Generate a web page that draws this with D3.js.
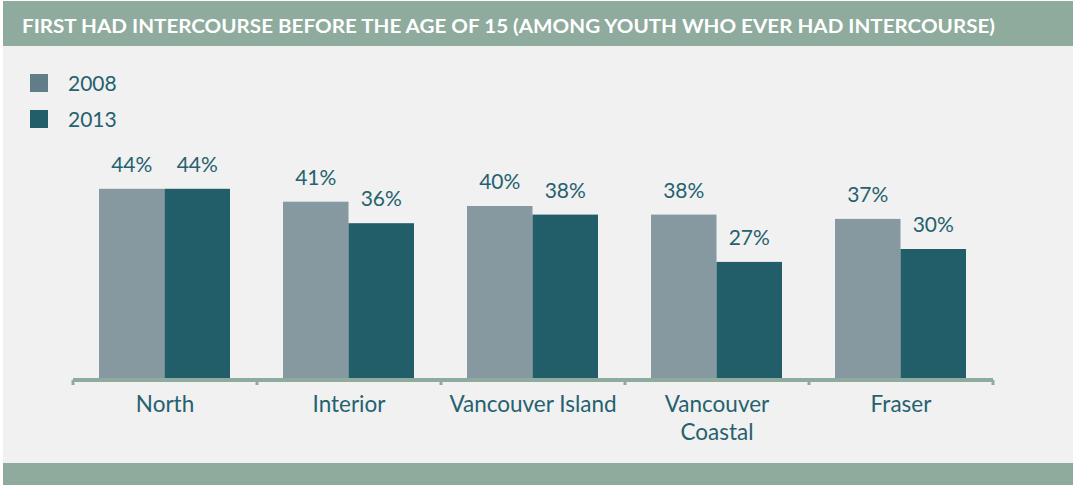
<!DOCTYPE html>
<html>
<head>
<meta charset="utf-8">
<script src="https://cdn.jsdelivr.net/npm/d3@7"></script>
<style>
  html, body { margin: 0; padding: 0; background: #ffffff; }
  svg { display: block; font-family: Lato, "Open Sans", sans-serif; }
</style>
</head>
<body>
<div id="chart"></div>
<script>
// ── Data ────────────────────────────────────────────────────────────────────
const TITLE = 'FIRST HAD INTERCOURSE BEFORE THE AGE OF 15 (AMONG YOUTH WHO EVER HAD INTERCOURSE)';
const regions = ['North', 'Interior', 'Vancouver Island', 'Vancouver Coastal', 'Fraser'];
const regionLines = [['North'], ['Interior'], ['Vancouver Island'], ['Vancouver', 'Coastal'], ['Fraser']];
const years = ['2008', '2013'];
const values2008 = [44, 41, 40, 38, 37];
const values2013 = [44, 36, 38, 27, 30];

const W = 1073, H = 485;
const BAR_COLORS = { '2008': '#8699a1', '2013': '#225d6a' };
const SWATCH_COLORS = { '2008': '#607d88', '2013': '#215e6a' };
const HEADER_GREEN = '#8eab9d';
const TEXT_COLOR = '#25616e';

const svg = d3.select('#chart').append('svg')
    .attr('width', W)
    .attr('height', H);

// panel + header/footer bands
svg.append('rect').attr('x', 3).attr('y', 1).attr('width', W - 3).attr('height', H - 1).attr('fill', '#f1f1f1');
svg.append('rect').attr('x', 3).attr('y', 1).attr('width', W - 3).attr('height', 45).attr('fill', HEADER_GREEN);
svg.append('rect').attr('x', 3).attr('y', 463).attr('width', W - 3).attr('height', H - 463).attr('fill', HEADER_GREEN);

svg.append('text')
    .attr('x', 22)
    .attr('y', 33)
    .attr('fill', '#ffffff')
    .attr('font-weight', 'bold')
    .attr('font-size', 19)
    .attr('textLength', 973)
    .attr('lengthAdjust', 'spacingAndGlyphs')
    .text(TITLE);

// ── Legend ──────────────────────────────────────────────────────────────────
const legend = svg.append('g').attr('transform', 'translate(30,74)');
years.forEach((yr, i) => {
    const row = legend.append('g').attr('transform', `translate(0,${i * 36})`);
    row.append('rect').attr('width', 18).attr('height', 18).attr('fill', SWATCH_COLORS[yr]);
    row.append('text')
        .attr('x', 38)
        .attr('y', 17)
        .attr('font-size', 21)
        .attr('fill', TEXT_COLOR)
        .text(yr);
});

// ── Scales ──────────────────────────────────────────────────────────────────
const x0 = d3.scaleBand().domain(regions).range([73, 993]).paddingInner(0).paddingOuter(0);
const x1 = d3.scaleBand().domain(years).range([26, x0.bandwidth() - 27]).padding(0);
const y = d3.scaleLinear().domain([0, 50]).range([378, 163]);

const rows = regions.map((r, i) => ({
    region: r,
    bars: [
        { year: '2008', value: values2008[i] },
        { year: '2013', value: values2013[i] }
    ]
}));

const groups = svg.selectAll('.region')
    .data(rows)
    .join('g')
    .attr('class', 'region')
    .attr('transform', d => `translate(${x0(d.region)},0)`);

groups.selectAll('rect')
    .data(d => d.bars)
    .join('rect')
    .attr('x', d => x1(d.year))
    .attr('y', d => y(d.value))
    .attr('width', x1.bandwidth())
    .attr('height', d => y(0) - y(d.value))
    .attr('fill', d => BAR_COLORS[d.year]);

groups.selectAll('.val')
    .data(d => d.bars)
    .join('text')
    .attr('class', 'val')
    .attr('x', d => x1(d.year) + x1.bandwidth() / 2)
    .attr('y', d => y(d.value) - 17)
    .attr('text-anchor', 'middle')
    .attr('font-size', 21)
    .attr('fill', TEXT_COLOR)
    .text(d => d.value + '%');

// ── X axis ──────────────────────────────────────────────────────────────────
const axis = svg.append('g').attr('transform', `translate(0,${y(0) + 2})`);
axis.append('line')
    .attr('x1', x0.range()[0]).attr('x2', x0.range()[1])
    .attr('stroke', HEADER_GREEN).attr('stroke-width', 4);
const tickXs = regions.map(r => x0(r)).concat([x0.range()[1]]);
axis.selectAll('.tick')
    .data(tickXs)
    .join('line')
    .attr('class', 'tick')
    .attr('x1', d => d).attr('x2', d => d)
    .attr('y1', 0).attr('y2', 5)
    .attr('stroke', HEADER_GREEN).attr('stroke-width', 3);

const labels = svg.selectAll('.cat')
    .data(regions)
    .join('text')
    .attr('class', 'cat')
    .attr('x', d => x0(d) + x0.bandwidth() / 2)
    .attr('y', 412)
    .attr('text-anchor', 'middle')
    .attr('font-size', 22.5)
    .attr('fill', TEXT_COLOR);

labels.selectAll('tspan')
    .data((d, i) => regionLines[i])
    .join('tspan')
    .attr('x', function () { return d3.select(this.parentNode).attr('x'); })
    .attr('dy', (d, i) => i === 0 ? 0 : 28)
    .text(d => d);
</script>
</body>
</html>
